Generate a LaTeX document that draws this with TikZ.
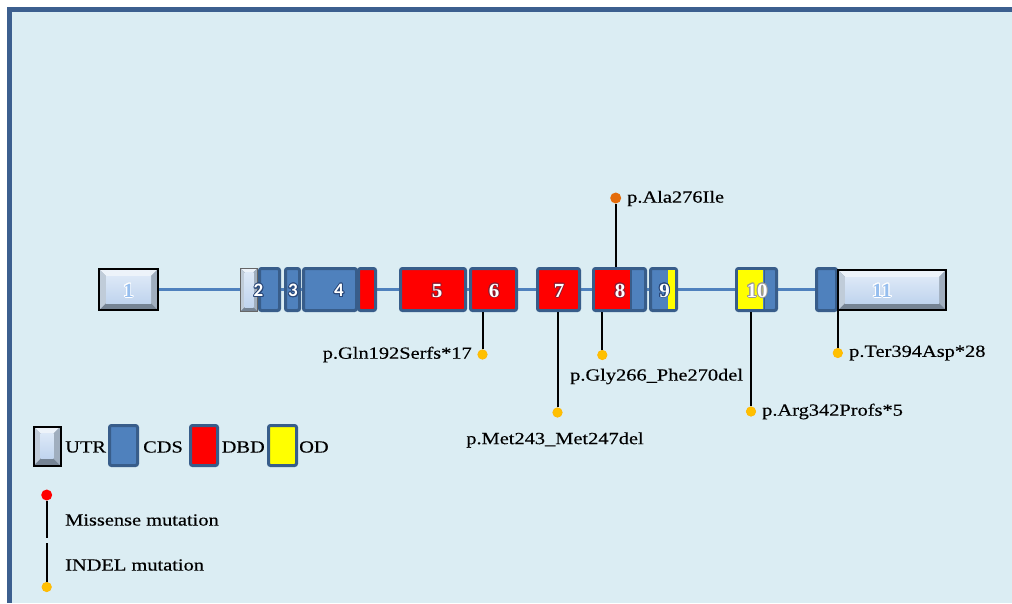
\documentclass[tikz,border=0pt]{standalone}
\usepackage{fontspec}
\setmainfont{Liberation Serif}[FakeStretch=1.2,FakeBold=0.35]
\newfontfamily\numserif{Liberation Serif}[FakeStretch=1.05]
\newfontfamily\numsans{Carlito}
\usepackage{contour}
\contourlength{0.9pt}
\usetikzlibrary{calc,backgrounds}
\definecolor{bgc}{RGB}{219,237,243}
\definecolor{framec}{RGB}{60,95,143}
\definecolor{cds}{RGB}{79,129,189}
\definecolor{cdsb}{RGB}{56,93,138}
\definecolor{dbd}{RGB}{255,0,0}
\definecolor{odc}{RGB}{255,255,0}
\definecolor{gold}{RGB}{255,192,0}
\definecolor{orng}{RGB}{228,108,10}
\definecolor{utrtop}{RGB}{237,243,250}
\definecolor{utrleft}{RGB}{192,204,217}
\definecolor{utrright}{RGB}{160,174,190}
\definecolor{utrbot}{RGB}{118,132,148}
\definecolor{utrinA}{RGB}{220,232,247}
\definecolor{utrinB}{RGB}{192,212,238}
\definecolor{glowred}{RGB}{140,30,50}
\definecolor{glowblue}{RGB}{40,70,120}
\definecolor{numblue}{RGB}{150,190,238}
\tikzset{
  cdsbox/.style={draw=cdsb, fill=cds, line width=3pt, rounded corners=2pt, inner sep=0pt},
  dbdbox/.style={cdsbox, fill=dbd},
  odbox/.style={cdsbox, fill=odc},
  utr/.style={draw=black, line width=2pt, inner sep=0pt, path picture={
    \path (path picture bounding box.north west) coordinate (pNW)
          (path picture bounding box.north east) coordinate (pNE)
          (path picture bounding box.south west) coordinate (pSW)
          (path picture bounding box.south east) coordinate (pSE);
    \fill[utrbot] (pNW) rectangle (pSE);
    \fill[utrtop] (pNW) -- (pNE) -- ($(pNE)+(-#1 pt,-#1 pt)$) -- ($(pNW)+(#1 pt,-#1 pt)$) -- cycle;
    \fill[utrleft] (pNW) -- ($(pNW)+(#1 pt,-#1 pt)$) -- ($(pSW)+(#1 pt,#1 pt)$) -- (pSW) -- cycle;
    \fill[utrright] (pNE) -- ($(pNE)+(-#1 pt,-#1 pt)$) -- ($(pSE)+(-#1 pt,#1 pt)$) -- (pSE) -- cycle;
    \shade[top color=utrinA, bottom color=utrinB] ($(pNW)+(#1 pt,-#1 pt)$) rectangle ($(pSE)+(-#1 pt,#1 pt)$);
  }},
  utr/.default=7,
  mutline/.style={line width=2pt, black},
  golddot/.style={circle, fill=gold, draw=gold!85!orange, line width=0.6pt, minimum size=9.5pt, inner sep=0pt},
  oradot/.style={circle, fill=orng, minimum size=11pt, inner sep=0pt},
  reddot/.style={circle, fill=dbd, minimum size=11pt, inner sep=0pt},
  lab/.style={font=\fontsize{17}{20}\selectfont, inner sep=0pt, text=black},
  num/.style={font=\numserif\bfseries\fontsize{20}{22}\selectfont, inner sep=0pt},
  snum/.style={font=\numsans\bfseries\fontsize{19}{22}\selectfont, inner sep=0pt},
}
\begin{document}
\begin{tikzpicture}[x=1pt,y=-1pt]
\useasboundingbox (0,0) rectangle (1012,603);

% exons
\node[utr, minimum width=59, minimum height=41] (e1) at (128.5,289.5) {};
\node[utr=4, draw=black!60, line width=1pt, minimum width=17, minimum height=43] (e2u) at (249,289.5) {};
\node[cdsbox, minimum width=20, minimum height=42] (e2) at (269.5,289.5) {};
\node[cdsbox, minimum width=14, minimum height=42] (e3) at (292.5,289.5) {};
\node[cdsbox, minimum width=53, minimum height=42] (e4) at (330,289.5) {};
\node[dbdbox, minimum width=17, minimum height=42] (e4d) at (367,289.5) {};
\node[dbdbox, minimum width=65, minimum height=42] (e5) at (433,289.5) {};
\node[dbdbox, minimum width=46, minimum height=42] (e6) at (493.5,289.5) {};
\node[dbdbox, minimum width=42, minimum height=42] (e7) at (558.5,289.5) {};
\node[cdsbox, minimum width=52, minimum height=42] (e8) at (619.5,289.5) {};
\fill[dbd] ($(e8.north west)+(3,3)$) rectangle ($(e8.south west)+(38,-3)$);
\draw[cdsb, line width=1.5pt] ($(e8.north west)+(39,3)$) -- ($(e8.south west)+(39,-3)$);
\node[cdsbox, minimum width=26, minimum height=42] (e9) at (663.5,289.5) {};
\fill[odc] ($(e9.north west)+(18.5,3)$) rectangle ($(e9.south west)+(26,-3)$);
\node[cdsbox, minimum width=40, minimum height=42] (e10) at (756.5,289.5) {};
\fill[odc] ($(e10.north west)+(3,3)$) rectangle ($(e10.south west)+(28,-3)$);
\draw[cdsb, line width=1.5pt] ($(e10.north west)+(29.5,3)$) -- ($(e10.south west)+(29.5,-3)$);
\node[cdsbox, minimum width=20, minimum height=42] (e11c) at (826.5,289.5) {};
\node[utr, minimum width=108, minimum height=40] (e11) at (892,290) {};

% exon numbers
\node[num] (n1) at (128.5,291) {\textcolor{numblue}{\contour{white}{1}}};
\node[snum] (n2) at (258.5,291) {\textcolor{white}{\contour{glowblue}{2}}};
\node[snum] (n3) at (293,291) {\textcolor{white}{\contour{glowblue}{3}}};
\node[snum] (n4) at (339,291) {\textcolor{white}{\contour{glowblue}{4}}};
\node[num] (n5) at (437,291) {\textcolor{white}{\contour{glowred}{5}}};
\node[num] (n6) at (494,291) {\textcolor{white}{\contour{glowred}{6}}};
\node[num] (n7) at (559,291) {\textcolor{white}{\contour{glowred}{7}}};
\node[num] (n8) at (620,291) {\textcolor{white}{\contour{glowred}{8}}};
\node[num] (n9) at (664.5,291) {\textcolor{white}{\contour{glowblue}{9}}};
\node[num] (n10) at (757,291) {\textcolor{white}{\contour{black!40}{10}}};
\node[num] (n11) at (882,291) {\textcolor{numblue}{\contour{white}{11}}};

% mutations
\node[oradot] (mAla) at (615.7,198) {};
\node[golddot] (mGln) at (482.5,354.5) {};
\node[golddot] (mMet) at (557.5,412.5) {};
\node[golddot] (mGly) at (602.3,355) {};
\node[golddot] (mArg) at (751,411.5) {};
\node[golddot] (mTer) at (837.8,353) {};
\draw[mutline] (e8.north -| mAla) -- (mAla);
\draw[mutline] (e6.south -| mGln) -- (mGln);
\draw[mutline] (e7.south -| mMet) -- (mMet);
\draw[mutline] (e8.south -| mGly) -- (mGly);
\draw[mutline] (e10.south -| mArg) -- (mArg);
\draw[mutline] (e11.south -| mTer) -- (mTer);
\node[lab, anchor=west] (lAla) at (627,198.5) {p.Ala276Ile};
\node[lab, anchor=east] (lGln) at (472,354.5) {p.Gln192Serfs*17};
\node[lab] (lMet) at (555,440) {p.Met243\_Met247del};
\node[lab, anchor=west] (lGly) at (570,376.5) {p.Gly266\_Phe270del};
\node[lab, anchor=west] (lArg) at (762,411.5) {p.Arg342Profs*5};
\node[lab, anchor=west] (lTer) at (849,353) {p.Ter394Asp*28};

% legend
\node[utr, minimum width=27, minimum height=39] (kUTR) at (47,446) {};
\node[lab, anchor=west] (tUTR) at (65,447) {UTR};
\node[cdsbox, minimum width=28, minimum height=40] (kCDS) at (123.5,445.5) {};
\node[lab, anchor=west] (tCDS) at (143,447) {CDS};
\node[dbdbox, minimum width=27, minimum height=40] (kDBD) at (204,445.5) {};
\node[lab, anchor=west] (tDBD) at (221.5,447) {DBD};
\node[odbox, minimum width=28, minimum height=40] (kOD) at (282.5,445.5) {};
\node[lab, anchor=west] (tOD) at (299,447) {OD};

\node[reddot] (kMis) at (46.7,495) {};
\coordinate (kMisEnd) at (46.7,538);
\draw[mutline] (kMis) -- (kMisEnd);
\node[lab, anchor=west] (tMis) at (65,520) {Missense mutation};
\node[golddot] (kInd) at (46.7,587) {};
\coordinate (kIndEnd) at (46.7,543);
\draw[mutline] (kIndEnd) -- (kInd);
\node[lab, anchor=west] (tInd) at (65,565) {INDEL mutation};

\begin{scope}[on background layer]
  \fill[white] (0,0) rectangle (1012,603);
  \fill[bgc] (8,8) rectangle (1012,603);
  \fill[framec] (7.3,7.3) rectangle (1012,11.7);
  \fill[framec] (7.3,7.3) rectangle (11.7,603);
  \draw[cds, line width=2.2pt] (e1.east) -- (e11c.west);
\end{scope}
\end{tikzpicture}
\end{document}
